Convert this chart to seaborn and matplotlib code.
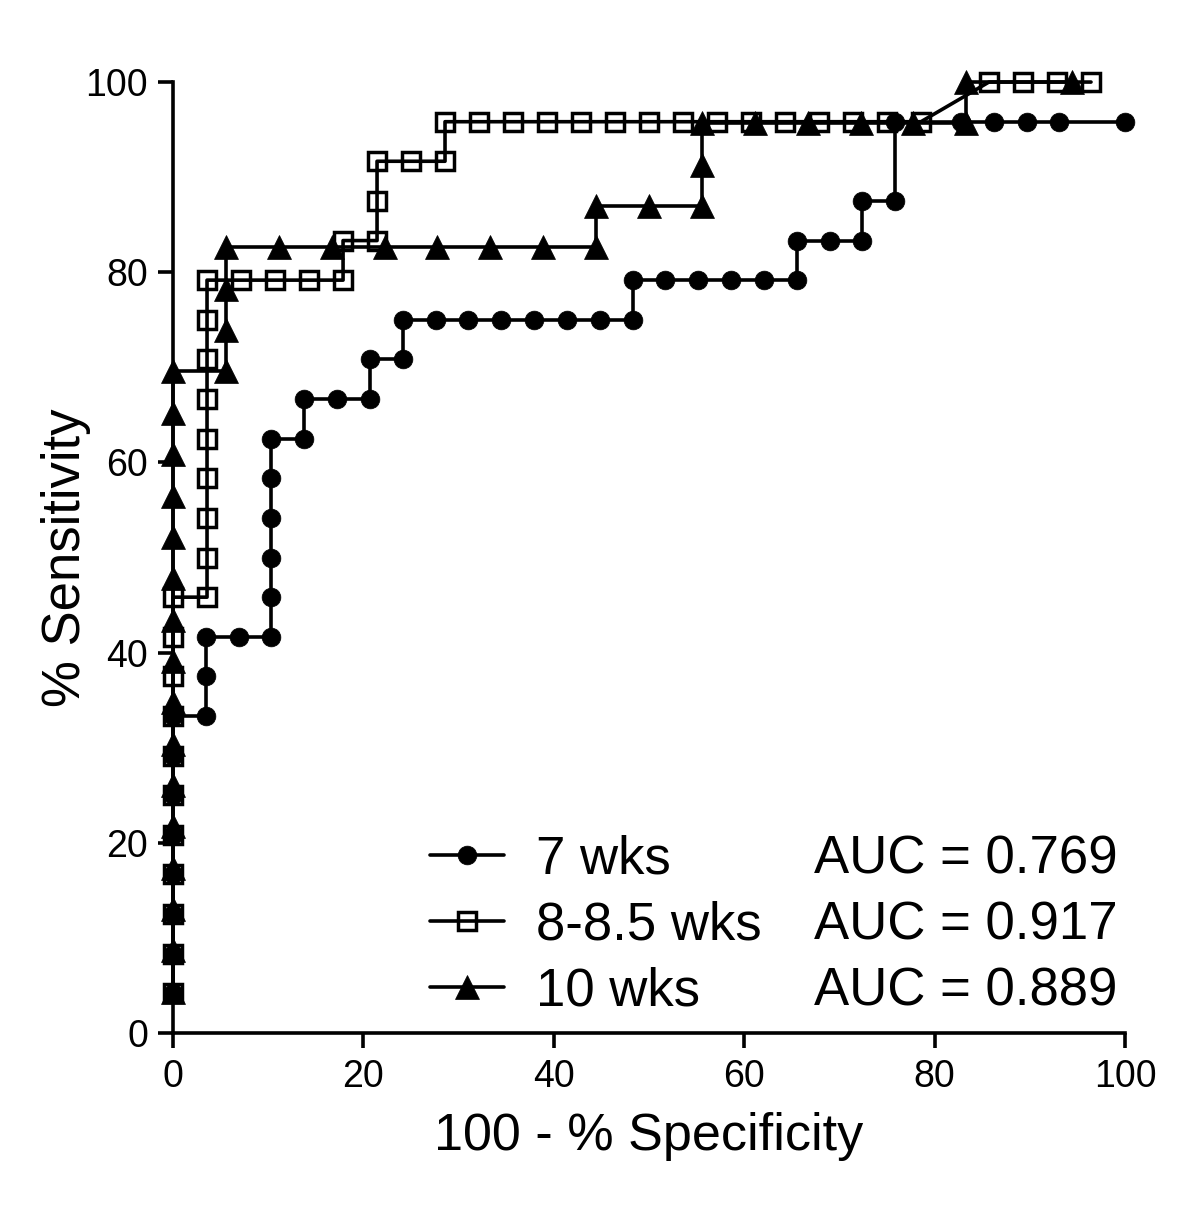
import numpy as np
import pandas as pd
import matplotlib
matplotlib.use("Agg")
import matplotlib.pyplot as plt
import seaborn as sns
from matplotlib.lines import Line2D

# ---------------- data ----------------
series_names = ["7 wks", "8-8.5 wks", "10 wks"]
auc_labels = ["AUC = 0.769", "AUC = 0.917", "AUC = 0.889"]

wk7_x = [0, 0, 0, 0, 0, 0, 0, 0,
         3.45, 3.45, 3.45, 6.90, 10.34, 10.34, 10.34, 10.34, 10.34, 10.34,
         13.79, 13.79, 17.24, 20.69, 20.69, 24.14, 24.14,
         27.59, 31.03, 34.48, 37.93, 41.38, 44.83, 48.28, 48.28,
         51.72, 55.17, 58.62, 62.07, 65.52, 65.52, 68.97, 72.41, 72.41,
         75.86, 75.86, 82.76, 86.21, 89.66, 93.10, 100.0]
wk7_y = [4.17, 8.33, 12.50, 16.67, 20.83, 25.00, 29.17, 33.33,
         33.33, 37.50, 41.67, 41.67, 41.67, 45.83, 50.00, 54.17, 58.33, 62.50,
         62.50, 66.67, 66.67, 66.67, 70.83, 70.83, 75.00,
         75.00, 75.00, 75.00, 75.00, 75.00, 75.00, 75.00, 79.17,
         79.17, 79.17, 79.17, 79.17, 79.17, 83.33, 83.33, 83.33, 87.50,
         87.50, 95.83, 95.83, 95.83, 95.83, 95.83, 95.83]

wk8_x = [0] * 11 + [3.57] * 9 + [7.14, 10.71, 14.29, 17.86, 17.86,
         21.43, 21.43, 21.43, 25.00, 28.57, 28.57,
         32.14, 35.71, 39.29, 42.86, 46.43, 50.00, 53.57, 57.14, 60.71,
         64.29, 67.86, 71.43, 75.00, 78.57,
         85.71, 89.29, 92.86, 96.43]
wk8_y = [4.17, 8.33, 12.50, 16.67, 20.83, 25.00, 29.17, 33.33, 37.50, 41.67, 45.83,
         45.83, 50.00, 54.17, 58.33, 62.50, 66.67, 70.83, 75.00, 79.17,
         79.17, 79.17, 79.17, 79.17, 83.33,
         83.33, 87.50, 91.67, 91.67, 91.67, 95.83,
         95.83, 95.83, 95.83, 95.83, 95.83, 95.83, 95.83, 95.83, 95.83,
         95.83, 95.83, 95.83, 95.83, 95.83,
         100.0, 100.0, 100.0, 100.0]

wk10_x = [0] * 16 + [5.56, 5.56, 5.56, 5.56,
          11.11, 16.67, 22.22, 27.78, 33.33, 38.89, 44.44, 44.44,
          50.00, 55.56, 55.56, 55.56,
          61.11, 66.67, 72.22, 77.78, 83.33, 83.33, 94.44]
wk10_y = [4.35, 8.70, 13.04, 17.39, 21.74, 26.09, 30.43, 34.78, 39.13, 43.48,
          47.83, 52.17, 56.52, 60.87, 65.22, 69.57,
          69.57, 73.91, 78.26, 82.61,
          82.61, 82.61, 82.61, 82.61, 82.61, 82.61, 82.61, 86.96,
          86.96, 86.96, 91.30, 95.65,
          95.65, 95.65, 95.65, 95.65, 95.65, 100.0, 100.0]

x_ticks = [0, 20, 40, 60, 80, 100]
y_ticks = [0, 20, 40, 60, 80, 100]

# ---------------- style ----------------
sns.set_theme(style="ticks")
plt.rcParams["font.family"] = ["Liberation Sans", "DejaVu Sans"]
plt.rcParams["text.color"] = "black"
plt.rcParams["axes.labelcolor"] = "black"

fig = plt.figure(figsize=(12, 12.21), dpi=100)
ax = fig.add_axes([0.1442, 0.154, 0.7933, 0.7788])

lw = 2.6
common = dict(sort=False, estimator=None, color="black", linewidth=lw,
              clip_on=False, markeredgecolor="black", ax=ax)

sns.lineplot(x=wk7_x, y=wk7_y, marker="o", markersize=13.5,
             markeredgewidth=0.5, label=series_names[0], zorder=3, **common)
sns.lineplot(x=wk8_x, y=wk8_y, marker="s", markersize=13,
             markerfacecolor="none", markeredgewidth=2.5,
             label=series_names[1], zorder=4, **common)
sns.lineplot(x=wk10_x, y=wk10_y, marker="^", markersize=17,
             markeredgewidth=0.5, label=series_names[2], zorder=5, **common)

ax.set_xlim(0, 100)
ax.set_ylim(0, 100)
ax.set_xticks(x_ticks)
ax.set_yticks(y_ticks)
sns.despine(ax=ax)
for s in ["left", "bottom"]:
    ax.spines[s].set_linewidth(lw)
    ax.spines[s].set_color("black")
    ax.spines[s].set_zorder(2)
ax.tick_params(axis="both", direction="out", length=11, width=lw,
               color="black", labelsize=27, labelcolor="black")
ax.tick_params(axis="x", pad=8)
ax.tick_params(axis="y", pad=7)

ax.set_xlabel("100 - % Specificity", fontsize=37.5, labelpad=12, color="black")
ax.set_ylabel("% Sensitivity", fontsize=38, labelpad=-4, color="black")

# legend: series in column 1, AUC values in column 2
handles, labels = ax.get_legend_handles_labels()
blank = [Line2D([], [], linestyle="none", marker=None) for _ in range(3)]
leg = ax.legend(handles + blank, labels + auc_labels, ncol=2,
                loc="upper left", bbox_to_anchor=(27.0, 20.9),
                bbox_transform=ax.transData, frameon=False,
                fontsize=38, handlelength=1.4, handletextpad=0.6,
                labelspacing=0.31, columnspacing=-1.0, borderpad=0,
                borderaxespad=0, markerscale=1.0)
for t in leg.get_texts():
    t.set_color("black")

fig.savefig("out.png", dpi=100)
